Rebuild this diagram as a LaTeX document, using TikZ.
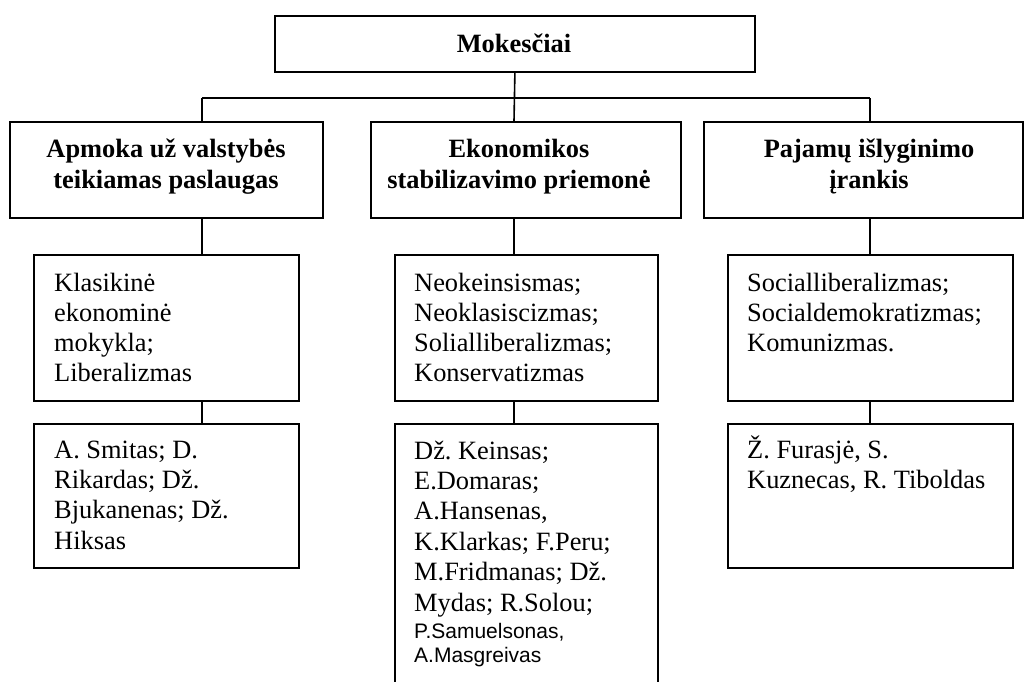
\documentclass[tikz,border=0pt]{standalone}
\usepackage{fontspec}
\setmainfont{Liberation Serif}
\newfontfamily\arialf{Liberation Sans}
\frenchspacing
\begin{document}
\begin{tikzpicture}[x=1pt,y=-1pt,
  box/.style={draw, line width=1.8pt, rectangle, inner sep=0pt, anchor=north west},
  conn/.style={line width=1.6pt},
  hd/.style={font=\fontsize{26.4}{30}\selectfont\bfseries, anchor=base, inner sep=0pt},
  tx/.style={font=\fontsize{26.4}{30}\selectfont, anchor=base west, inner sep=0pt},
  sm/.style={font=\arialf\fontsize{21}{24}\selectfont, anchor=base west, inner sep=0pt}]
\useasboundingbox (0,0) rectangle (1029,681);
\clip (0,0) rectangle (1029,681);
% boxes
\node[box, minimum width=480pt, minimum height=56pt] (top) at (274,15) {};
\node[box, minimum width=313pt, minimum height=96pt] (hL) at (9,121) {};
\node[box, minimum width=310pt, minimum height=96pt] (hM) at (370,121) {};
\node[box, minimum width=319pt, minimum height=96pt] (hR) at (703,121) {};
\node[box, minimum width=265pt, minimum height=146pt] (bL) at (33,254) {};
\node[box, minimum width=263pt, minimum height=146pt] (bM) at (394,254) {};
\node[box, minimum width=285pt, minimum height=146pt] (bR) at (727,254) {};
\node[box, minimum width=265pt, minimum height=144pt] (cL) at (33,423) {};
\node[box, minimum width=263pt, minimum height=300pt] (cM) at (394,423) {};
\node[box, minimum width=285pt, minimum height=144pt] (cR) at (727,423) {};
% connectors
\coordinate (jL) at (202,98);
\coordinate (jM) at (514,98);
\coordinate (jR) at (870,98);
\draw[conn] (top.south) -- (jM |- hM.north);
\draw[conn] (jL) -- (jR);
\draw[conn] (jL) -- (jL |- hL.north);
\draw[conn] (jR) -- (jR |- hR.north);
\draw[conn] (jL |- hL.south) -- (jL |- bL.north);
\draw[conn] (jM |- hM.south) -- (jM |- bM.north);
\draw[conn] (jR |- hR.south) -- (jR |- bR.north);
\draw[conn] (jL |- bL.south) -- (jL |- cL.north);
\draw[conn] (jM |- bM.south) -- (jM |- cM.north);
\draw[conn] (jR |- bR.south) -- (jR |- cR.north);
% header texts
\node[hd] (tTop) at (514,52) {Mokesčiai};
\node[hd] (tL1) at (166,157) {Apmoka už valstybės};
\node[hd] (tL2) at (166,188) {teikiamas paslaugas};
\node[hd] (tM1) at (519,157) {Ekonomikos};
\node[hd] (tM2) at (519,188) {stabilizavimo priemonė};
\node[hd] (tR1) at (869,157) {Pajamų išlyginimo};
\node[hd] (tR2) at (869,188) {įrankis};
% level 2 texts
\foreach \s [count=\i] in {Klasikinė, ekonominė, mokykla;, Liberalizmas}
  \node[tx] (bLt\i) at (54,{291+30.2*(\i-1)}) {\s};
\foreach \s [count=\i] in {Neokeinsismas;, Neoklasiscizmas;, Solialliberalizmas;, Konservatizmas}
  \node[tx] (bMt\i) at (414,{291+30.2*(\i-1)}) {\s};
\foreach \s [count=\i] in {Socialliberalizmas;, Socialdemokratizmas;, Komunizmas.}
  \node[tx] (bRt\i) at (747,{291+30.2*(\i-1)}) {\s};
% level 3 texts
\foreach \s [count=\i] in {A. Smitas; D., Rikardas; Dž., Bjukanenas; Dž., Hiksas}
  \node[tx] (cLt\i) at (54,{458+30.4*(\i-1)}) {\s};
\foreach \s [count=\i] in {Dž. Keinsas;, E.Domaras;, {A.Hansenas,}, K.Klarkas; F.Peru;, M.Fridmanas; Dž., Mydas; R.Solou;}
  \node[tx] (cMt\i) at (414,{459+30.4*(\i-1)}) {\s};
\node[sm] (cMs1) at (414,638) {P.Samuelsonas,};
\node[sm] (cMs2) at (414,662) {A.Masgreivas};
\foreach \s [count=\i] in {{Ž. Furasjė, S.}, {Kuznecas, R. Tiboldas}}
  \node[tx] (cRt\i) at (747,{458+30.4*(\i-1)}) {\s};
\end{tikzpicture}
\end{document}
